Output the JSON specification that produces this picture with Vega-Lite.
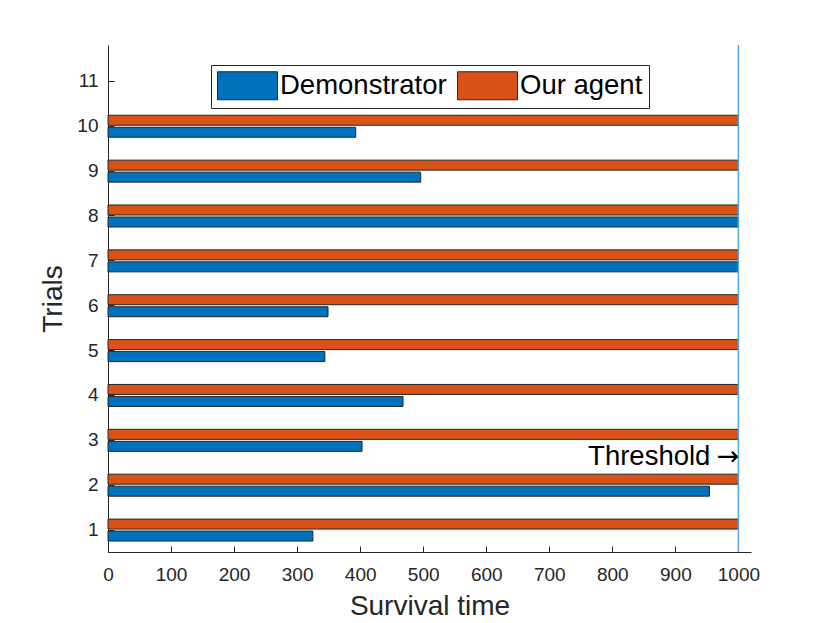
{
  "$schema": "https://vega.github.io/schema/vega-lite/v6.json",
  "width": 643,
  "height": 507,
  "autosize": {"type": "none"},
  "padding": {"left": 108, "top": 45, "right": 79, "bottom": 71},
  "background": "white",
  "config": {
    "view": {"stroke": null},
    "font": "Liberation Sans",
    "axis": {
      "grid": false,
      "domainColor": "#262626",
      "domainWidth": 1,
      "tickColor": "#262626",
      "tickWidth": 1,
      "tickSize": -6,
      "labelColor": "#262626",
      "labelFont": "Liberation Sans",
      "labelFontSize": 19,
      "labelFlush": false,
      "labelOverlap": false,
      "titleFont": "Liberation Sans",
      "titleFontSize": 28,
      "titleFontWeight": "normal",
      "titleColor": "#262626",
      "zindex": 1
    },
    "legend": {
      "orient": "none",
      "legendX": 103,
      "legendY": 20,
      "direction": "horizontal",
      "fillColor": "white",
      "strokeColor": "#262626",
      "padding": 6,
      "symbolType": "M-1,-1H3.286V1H-1Z",
      "symbolSize": 784,
      "symbolStrokeColor": "#262626",
      "symbolStrokeWidth": 1,
      "symbolOpacity": 1,
      "labelFont": "Liberation Sans",
      "labelFontSize": 27.5,
      "labelColor": "black",
      "labelOffset": 34,
      "columnPadding": 8,
      "labelLimit": 400
    }
  },
  "data": {
    "values": [
      {"trial": 1, "series": "Demonstrator", "time": 325},
      {"trial": 2, "series": "Demonstrator", "time": 954},
      {"trial": 3, "series": "Demonstrator", "time": 403},
      {"trial": 4, "series": "Demonstrator", "time": 468},
      {"trial": 5, "series": "Demonstrator", "time": 344},
      {"trial": 6, "series": "Demonstrator", "time": 349},
      {"trial": 7, "series": "Demonstrator", "time": 1000},
      {"trial": 8, "series": "Demonstrator", "time": 1000},
      {"trial": 9, "series": "Demonstrator", "time": 496},
      {"trial": 10, "series": "Demonstrator", "time": 393},
      {"trial": 1, "series": "Our agent", "time": 1000},
      {"trial": 2, "series": "Our agent", "time": 1000},
      {"trial": 3, "series": "Our agent", "time": 1000},
      {"trial": 4, "series": "Our agent", "time": 1000},
      {"trial": 5, "series": "Our agent", "time": 1000},
      {"trial": 6, "series": "Our agent", "time": 1000},
      {"trial": 7, "series": "Our agent", "time": 1000},
      {"trial": 8, "series": "Our agent", "time": 1000},
      {"trial": 9, "series": "Our agent", "time": 1000},
      {"trial": 10, "series": "Our agent", "time": 1000}
    ]
  },
  "layer": [
    {
      "transform": [{"filter": "datum.series === 'Demonstrator'"}],
      "mark": {"type": "bar", "orient": "horizontal", "size": 10, "yOffset": 6.5, "stroke": "#262626", "strokeWidth": 1},
      "encoding": {
        "x": {"field": "time", "type": "quantitative", "scale": {"domain": [0, 1020], "nice": false, "zero": true, "padding": 0}, "axis": {"values": [0,100,200,300,400,500,600,700,800,900,1000], "format": "d", "title": "Survival time", "labelPadding": 19, "titlePadding": 8}},
        "y": {"field": "trial", "type": "quantitative", "scale": {"domain": [0.5, 11.8], "nice": false, "zero": false, "padding": 0}, "axis": {"values": [1,2,3,4,5,6,7,8,9,10,11], "format": "d", "title": "Trials", "labelPadding": 16, "titlePadding": 9}},
        "color": {"field": "series", "type": "nominal", "scale": {"domain": ["Demonstrator", "Our agent"], "range": ["#0072BD", "#D95319"]}, "legend": {"title": null}}
      }
    },
    {
      "transform": [{"filter": "datum.series === 'Our agent'"}],
      "mark": {"type": "bar", "orient": "horizontal", "size": 10, "yOffset": -5.5, "stroke": "#262626", "strokeWidth": 1},
      "encoding": {
        "x": {"field": "time", "type": "quantitative"},
        "y": {"field": "trial", "type": "quantitative"},
        "color": {"field": "series", "type": "nominal"}
      }
    },
    {
      "data": {"values": [{"threshold": 1000}]},
      "mark": {"type": "rule", "color": "#56A8E0", "strokeWidth": 1.5},
      "encoding": {"x": {"field": "threshold", "type": "quantitative"}}
    },
    {
      "data": {"values": [{"threshold": 1000, "trial": 2.62, "label": "Threshold"}]},
      "mark": {"type": "text", "align": "right", "baseline": "middle", "fontSize": 27.5, "font": "Liberation Sans", "fill": "black", "dx": -28},
      "encoding": {"x": {"field": "threshold", "type": "quantitative"}, "y": {"field": "trial", "type": "quantitative"}, "text": {"field": "label"}}
    },
    {
      "data": {"values": [{"threshold": 1000, "trial": 2.62, "label": "→"}]},
      "mark": {"type": "text", "align": "right", "baseline": "middle", "fontSize": 27, "font": "DejaVu Sans", "fill": "black", "dx": 1},
      "encoding": {"x": {"field": "threshold", "type": "quantitative"}, "y": {"field": "trial", "type": "quantitative"}, "text": {"field": "label"}}
    }
  ]
}
